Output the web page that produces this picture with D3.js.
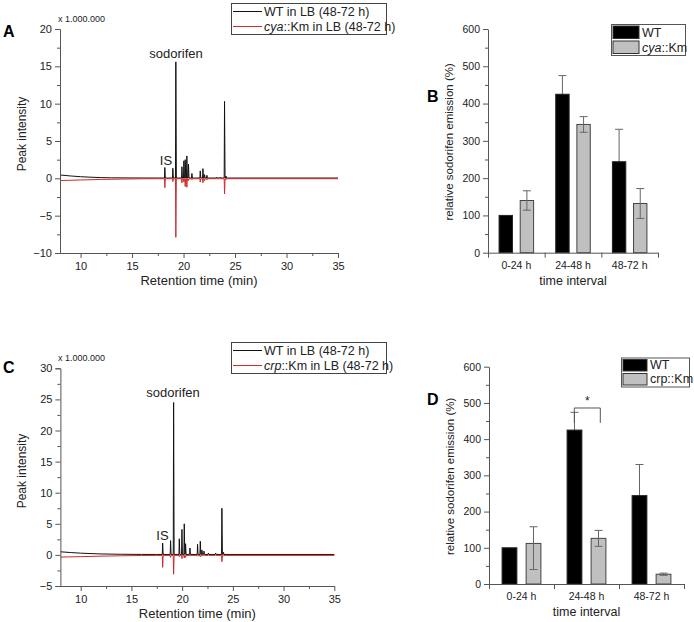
<!DOCTYPE html>
<html><head><meta charset="utf-8">
<script src="https://cdn.jsdelivr.net/npm/d3@7"></script>
<style>
body{margin:0;background:#fff;}
svg text{font-family:"Liberation Sans",Arial,sans-serif;}
</style></head>
<body><svg id="c" width="694" height="622"></svg>
<script>
// ---------- DATA ----------
// Panel A chromatogram (x 1.000.000)
const wtBaseA = [[8,0.45],[9,0.32],[10,0.22],[11,0.15],[12,0.1],[13,0.07],[15,0.05],[17.5,0.04]];
const cyaBaseA = [[8,-0.3],[10,-0.22],[12,-0.15],[14,-0.1],[16,-0.06],[17.5,-0.05]];
const peakTimesA = [18.18,18.96,19.25,19.84,20.03,20.16,20.32,20.48,20.81,21.62,21.88,22.04,22.27,23.24,23.56,23.98,24.12];
const wtPeaksA   = [1.45,1.35,15.6,1.55,2.35,2.5,3.0,1.9,0.65,1.0,1.3,0.5,0.4,0.15,0.15,10.3,0.3];
const cyaPeaksA  = [-1.25,-0.45,-7.9,-0.6,-0.5,-1.1,-1.2,-0.3,-0.2,-0.5,-0.6,-0.3,-0.2,-0.05,-0.05,-2.1,-0.2];
// Panel C chromatogram
const wtBaseC = [[8,0.5],[9,0.38],[10,0.28],[12,0.15],[14,0.1],[16,0.08],[17.5,0.07]];
const crpBaseC = [[8,-0.35],[10,-0.28],[12,-0.2],[14,-0.14],[16,-0.1],[17.5,-0.08]];
const peakTimesC = [18.08,18.86,19.16,19.72,19.98,20.21,20.34,20.77,21.52,21.79,21.95,22.15,22.6,23.3,23.92,24.08];
const wtPeaksC   = [1.9,2.3,24.5,2.6,4.1,5.0,1.8,1.1,1.7,2.2,0.8,0.6,0.3,0.3,7.5,0.4];
const crpPeaksC  = [-2.0,-0.4,-3.1,-0.3,-0.6,-0.5,-0.4,-0.2,-0.2,-0.3,-0.2,-0.1,-0.05,-0.05,-1.1,-0.2];

// Panel B bars
const categories = ["0-24 h","24-48 h","48-72 h"];
const wtB  = [100,425,244];
const wtErrB = [0,50,87];
const cyaB = [140,344,132];
const cyaErrB = [26,21,40];
// Panel D bars
const wtD  = [100,425,244];
const wtErrD = [0,49,86];
const crpD = [112,126,27];
const crpErrHiD = [46,22,3];
const crpErrLoD = [72,22,3];

const chromXTicks = [10,15,20,25,30,35];
const barYTicks = [0,100,200,300,400,500,600];

// ---------- DRAW ----------
const svg = d3.select("#c");
const AX = "#555", TXT = "#222", RED = "#d02a2a";

function buildTrace(base, times, heights, foot){
  const pts = base.map(d=>[d[0],d[1]]);
  times.forEach((t,i)=>{ pts.push([t-0.035,foot],[t,heights[i]],[t+0.05,foot]); });
  pts.push([35,foot]);
  return pts.sort((a,b)=>a[0]-b[0]);
}

function styleAxis(g){
  g.select(".domain").attr("stroke",AX).attr("stroke-width",1);
  g.selectAll(".tick line").attr("stroke",AX);
  g.selectAll(".tick text").attr("fill",TXT).attr("font-size",11);
}

function chrom(opt){
  const x = d3.scaleLinear([8,35],[opt.x0,opt.x1]);
  const y = d3.scaleLinear(opt.yDom,[opt.yb,opt.yt]);
  const line = d3.line().x(d=>x(d[0])).y(d=>y(d[1]));
  svg.append("path").attr("d",line(buildTrace(opt.wtBase,opt.times,opt.wt,opt.wtFoot)))
    .attr("fill","none").attr("stroke","#111").attr("stroke-width",1);
  svg.append("path").attr("d",line(buildTrace(opt.mBase,opt.times,opt.m,opt.mFoot)))
    .attr("fill","none").attr("stroke",RED).attr("stroke-width",1);
  const gy = svg.append("g").attr("transform",`translate(${opt.x0},0)`)
    .call(d3.axisLeft(y).tickValues(d3.range(opt.yDom[0],opt.yDom[1]+0.1,5)).tickSize(5).tickPadding(3).tickFormat(d3.format("d")));
  styleAxis(gy);
  const gym = svg.append("g").attr("transform",`translate(${opt.x0},0)`)
    .call(d3.axisLeft(y).tickValues(d3.range(opt.yDom[0]+2.5,opt.yDom[1],5)).tickSize(3).tickFormat(""));
  styleAxis(gym); gym.select(".domain").remove();
  const gx = svg.append("g").attr("transform",`translate(0,${opt.yb})`)
    .call(d3.axisBottom(x).tickValues(chromXTicks).tickSize(5).tickPadding(4).tickSizeOuter(0));
  styleAxis(gx);
  const gxm = svg.append("g").attr("transform",`translate(0,${opt.yb})`)
    .call(d3.axisBottom(x).tickValues([12.5,17.5,22.5,27.5,32.5]).tickSize(3).tickFormat(""));
  styleAxis(gxm); gxm.select(".domain").remove();
  svg.append("text").attr("x",x(21.5)).attr("y",opt.yb+32).attr("text-anchor","middle")
    .attr("font-size",13).attr("fill",TXT).text("Retention time (min)");
  svg.append("text").attr("transform",`translate(26,${opt.labY}) rotate(-90)`)
    .attr("text-anchor","middle").attr("font-size",12).attr("fill",TXT).text("Peak intensity");
  svg.append("text").attr("x",58).attr("y",opt.yt-7).attr("font-size",9).attr("fill",TXT).text("x 1.000.000");
  svg.append("text").attr("x",3).attr("y",opt.letterY).attr("font-size",16).attr("font-weight","bold").attr("fill","#000").text(opt.letter);
  svg.append("text").attr("x",opt.sodX).attr("y",opt.sodY).attr("text-anchor","middle").attr("font-size",13).attr("fill",TXT).text("sodorifen");
  svg.append("text").attr("x",opt.isX).attr("y",opt.isY).attr("text-anchor","middle").attr("font-size",13).attr("fill",TXT).text("IS");
  const lg = svg.append("g");
  lg.append("rect").attr("x",231.5).attr("y",opt.legY+0.5).attr("width",155).attr("height",31)
    .attr("fill","#fff").attr("stroke","#444");
  lg.append("line").attr("x1",233).attr("x2",262).attr("y1",opt.legY+8.5).attr("y2",opt.legY+8.5).attr("stroke","#111");
  lg.append("line").attr("x1",233).attr("x2",262).attr("y1",opt.legY+23.5).attr("y2",opt.legY+23.5).attr("stroke",RED);
  lg.append("text").attr("x",264).attr("y",opt.legY+13).attr("font-size",12.5).attr("fill",TXT).text("WT in LB (48-72 h)");
  const t2 = lg.append("text").attr("x",264).attr("y",opt.legY+28).attr("font-size",12.5).attr("fill",TXT);
  t2.append("tspan").attr("font-style","italic").text(opt.mName);
  t2.append("tspan").text("::Km in LB (48-72 h)");
}

chrom({x0:60,x1:338,yDom:[-10,20],yb:253,yt:29,wtBase:wtBaseA,mBase:cyaBaseA,times:peakTimesA,wt:wtPeaksA,m:cyaPeaksA,
  wtFoot:0.04,mFoot:-0.05,letter:"A",letterY:37,sodX:176,sodY:58,isX:166,isY:165,legY:3,mName:"cya",labY:134});
chrom({x0:60.4,x1:334.3,yDom:[-5,30],yb:586,yt:368.3,wtBase:wtBaseC,mBase:crpBaseC,times:peakTimesC,wt:wtPeaksC,m:crpPeaksC,
  wtFoot:0.07,mFoot:-0.08,letter:"C",letterY:373,sodX:173,sodY:397,isX:162.5,isY:540,legY:342,mName:"crp",labY:471});

function bars(opt){
  const xg = d3.scaleBand(categories,[opt.x0,opt.x1]);
  const xs = d3.scaleBand(["wt","m"],[0,xg.bandwidth()]).paddingInner(opt.pi).paddingOuter(opt.po);
  const y = d3.scaleLinear([0,600],[opt.yb,opt.yt]);
  const errCol = "#666";
  function errBars(vals, hi, lo, key){
    const g = svg.append("g");
    categories.forEach((c,i)=>{
      if(!hi[i]) return;
      const cx = xg(c)+xs(key)+xs.bandwidth()/2;
      g.append("line").attr("x1",cx).attr("x2",cx).attr("y1",y(vals[i]+hi[i])).attr("y2",y(vals[i]-lo[i])).attr("stroke",errCol);
      [vals[i]+hi[i],vals[i]-lo[i]].forEach(v=>{
        g.append("line").attr("x1",cx-4).attr("x2",cx+4).attr("y1",y(v)).attr("y2",y(v)).attr("stroke",errCol);
      });
    });
  }
  errBars(opt.wt,opt.wtErr,opt.wtErr,"wt");
  svg.append("g").selectAll("rect").data(opt.wt).join("rect")
    .attr("x",(d,i)=>xg(categories[i])+xs("wt")).attr("width",xs.bandwidth())
    .attr("y",d=>y(d)).attr("height",d=>y(0)-y(d)).attr("fill","#000").attr("stroke","#222");
  svg.append("g").selectAll("rect").data(opt.m).join("rect")
    .attr("x",(d,i)=>xg(categories[i])+xs("m")).attr("width",xs.bandwidth())
    .attr("y",d=>y(d)).attr("height",d=>y(0)-y(d)).attr("fill","#c0c0c0").attr("stroke","#444");
  errBars(opt.m,opt.mErrHi,opt.mErrLo,"m");
  const gy = svg.append("g").attr("transform",`translate(${opt.x0},0)`)
    .call(d3.axisLeft(y).tickValues(barYTicks).tickSize(5).tickPadding(3).tickSizeOuter(0));
  styleAxis(gy); gy.selectAll(".tick text").attr("font-size",10.5);
  const gym = svg.append("g").attr("transform",`translate(${opt.x0},0)`)
    .call(d3.axisLeft(y).tickValues([50,150,250,350,450,550]).tickSize(3).tickFormat(""));
  styleAxis(gym); gym.select(".domain").remove();
  const xl = d3.scaleLinear([0,3],[opt.x0,opt.x1]);
  const gx = svg.append("g").attr("transform",`translate(0,${opt.yb})`)
    .call(d3.axisBottom(xl).tickValues([0,1,2,3]).tickSize(5).tickFormat("").tickSizeOuter(0));
  styleAxis(gx);
  const gxl = svg.append("g").attr("transform",`translate(0,${opt.yb})`)
    .call(d3.axisBottom(xg).tickSize(0).tickPadding(9));
  styleAxis(gxl); gxl.select(".domain").remove(); gxl.selectAll(".tick text").attr("font-size",10.5);
  svg.append("text").attr("x",(opt.x0+opt.x1)/2).attr("y",opt.yb+32).attr("text-anchor","middle")
    .attr("font-size",12.5).attr("fill",TXT).text("time interval");
  svg.append("text").attr("transform",`translate(${opt.x0-35},${(opt.yb+opt.yt)/2+1}) rotate(-90)`)
    .attr("text-anchor","middle").attr("font-size",11.5).attr("fill",TXT).text("relative sodorifen emission (%)");
  svg.append("text").attr("x",427).attr("y",opt.letterY).attr("font-size",16).attr("font-weight","bold").attr("fill","#000").text(opt.letter);
  const L = opt.leg;
  svg.append("rect").attr("x",L.x+0.5).attr("y",L.y+0.5).attr("width",L.w).attr("height",L.h).attr("fill","#fff").attr("stroke","#555");
  svg.append("rect").attr("x",L.x+2).attr("y",L.y+2).attr("width",L.sw).attr("height",L.h/2-3).attr("fill","#000").attr("stroke","#333");
  svg.append("rect").attr("x",L.x+2).attr("y",L.y+L.h/2+1.5).attr("width",L.sw).attr("height",L.h/2-3).attr("fill","#c0c0c0").attr("stroke","#333");
  svg.append("text").attr("x",L.x+L.sw+5).attr("y",L.y+L.h/2-3).attr("font-size",12.5).attr("fill",TXT).text("WT");
  const t = svg.append("text").attr("x",L.x+L.sw+5).attr("y",L.y+L.h-3.5).attr("font-size",12.5).attr("fill",TXT);
  if(opt.italic){ t.append("tspan").attr("font-style","italic").text(opt.mName); t.append("tspan").text("::Km"); }
  else t.text(opt.mName+"::Km");
  return {xg,xs,y};
}

bars({x0:488,x1:658,yb:252.7,yt:29,pi:0.367,po:0.524,wt:wtB,wtErr:wtErrB,m:cyaB,mErrHi:cyaErrB,mErrLo:cyaErrB,letter:"B",letterY:102,
  leg:{x:611,y:24,w:74,h:31,sw:26},mName:"cya",italic:true});
const d = bars({x0:489,x1:684,yb:584,yt:366.7,pi:0.385,po:0.545,wt:wtD,wtErr:wtErrD,m:crpD,mErrHi:crpErrHiD,mErrLo:crpErrLoD,letter:"D",letterY:405,
  leg:{x:621,y:357.5,w:68,h:29,sw:24},mName:"crp",italic:false});
const bx1 = 574.3, bx2 = 600.3;
svg.append("path").attr("d",`M${bx1},${d.y(445)}V${d.y(486)}H${bx2}V${d.y(445)}`).attr("fill","none").attr("stroke","#555");
svg.append("text").attr("x",(bx1+bx2)/2).attr("y",d.y(486)-3).attr("text-anchor","middle").attr("font-size",12).attr("fill",TXT).text("*");
</script></body></html>
